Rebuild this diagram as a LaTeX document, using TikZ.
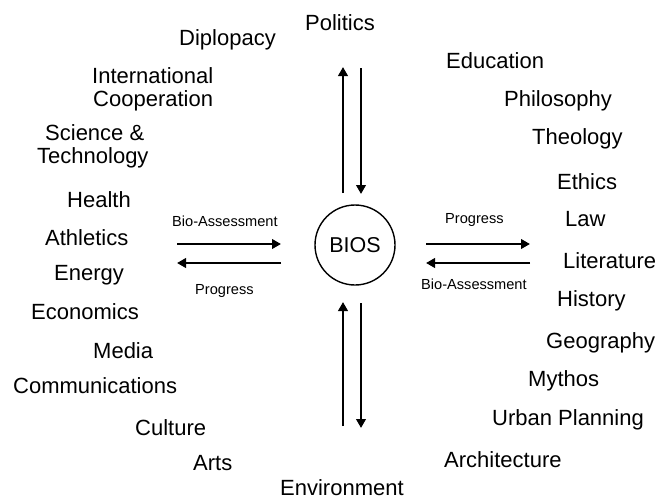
\documentclass[tikz,border=0pt]{standalone}
\usepackage{fontspec}
\setmainfont{Liberation Sans}
\usetikzlibrary{arrows.meta}
\begin{document}
\begin{tikzpicture}[x=1pt,y=-1pt,
  lbl/.style={anchor=base west,inner sep=0pt,font=\fontsize{22}{25}\selectfont},
  slbl/.style={anchor=base west,inner sep=0pt,font=\fontsize{14.6}{17}\selectfont},
  arr/.style={line width=2.6pt,-{Triangle[length=9pt,width=9.5pt]}}]
\useasboundingbox (0,0) rectangle (656,499);
% center
\node[circle,draw,line width=1.4pt,minimum size=80pt,inner sep=0pt,font=\fontsize{21.5}{24}\selectfont] (bios) at (355,245) {BIOS};
% words
\node[lbl] (politics) at (305,30) {Politics};
\node[lbl] (diplo) at (179,45) {Diplopacy};
\node[lbl] (intl) at (92,83) {International};
\node[lbl] (coop) at (93,106) {Cooperation};
\node[lbl] (sci) at (45,140) {Science \&};
\node[lbl] (tech) at (37,163) {Technology};
\node[lbl] (health) at (67,207) {Health};
\node[lbl] (athl) at (45,245) {Athletics};
\node[lbl] (energy) at (54,280) {Energy};
\node[lbl] (econ) at (31,319) {Economics};
\node[lbl] (media) at (93,358) {Media};
\node[lbl] (comm) at (13,393) {Communications};
\node[lbl] (culture) at (135,435) {Culture};
\node[lbl] (arts) at (193,470) {Arts};
\node[lbl] (env) at (280,495) {Environment};
\node[lbl] (edu) at (446,68) {Education};
\node[lbl] (phil) at (504,106) {Philosophy};
\node[lbl] (theo) at (532,144) {Theology};
\node[lbl] (ethics) at (557,189) {Ethics};
\node[lbl] (law) at (565,226) {Law};
\node[lbl] (lit) at (563,268) {Literature};
\node[lbl] (hist) at (557,306) {History};
\node[lbl] (geo) at (546,348) {Geography};
\node[lbl] (myth) at (528,386) {Mythos};
\node[lbl] (urban) at (492,425) {Urban Planning};
\node[lbl] (arch) at (444,467) {Architecture};
% small labels
\node[slbl] (baL) at (172,226) {Bio-Assessment};
\node[slbl] (prL) at (195,294) {Progress};
\node[slbl] (prR) at (445,223) {Progress};
\node[slbl] (baR) at (421,289) {Bio-Assessment};
% arrow end points
\coordinate (lA) at (177,244); \coordinate (lB) at (281,244);
\coordinate (lC) at (281,263); \coordinate (lD) at (177,263);
\coordinate (rA) at (426,244); \coordinate (rB) at (530,244);
\coordinate (rC) at (530,263); \coordinate (rD) at (426,263);
\coordinate (tA) at (343,193); \coordinate (tB) at (343,67);
\coordinate (tC) at (361,68); \coordinate (tD) at (361,194);
\coordinate (bA) at (343,426); \coordinate (bB) at (343,302);
\coordinate (bC) at (361,303); \coordinate (bD) at (361,428);
\draw[arr] (lA) -- (lB);
\draw[arr] (lC) -- (lD);
\draw[arr] (rA) -- (rB);
\draw[arr] (rC) -- (rD);
\draw[arr] (tA) -- (tB);
\draw[arr] (tC) -- (tD);
\draw[arr] (bA) -- (bB);
\draw[arr] (bC) -- (bD);
\end{tikzpicture}
\end{document}
